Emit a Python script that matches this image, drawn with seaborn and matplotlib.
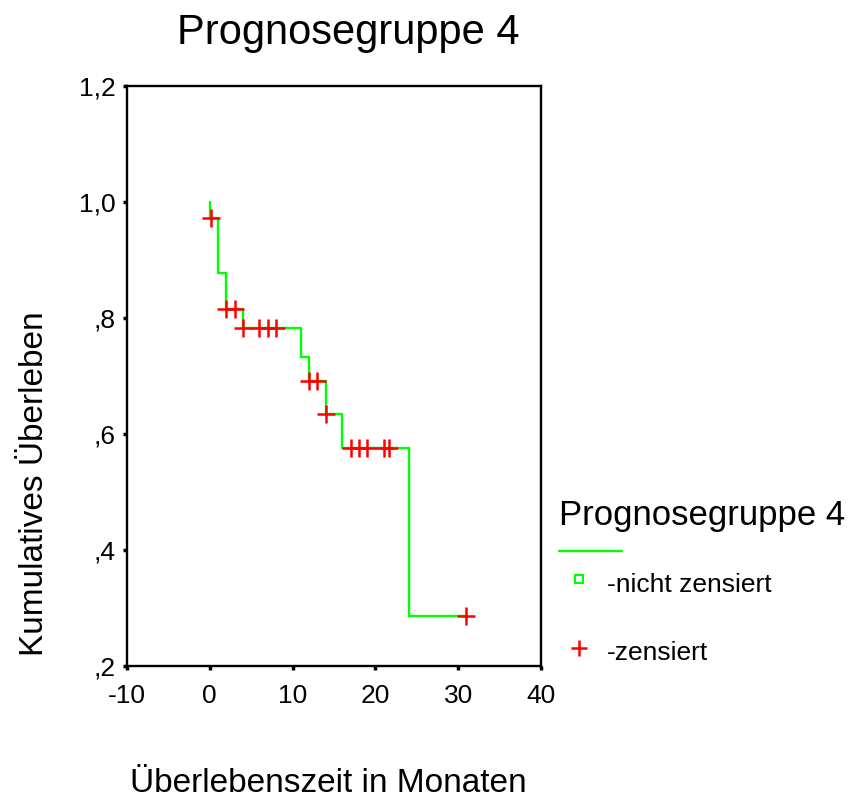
import matplotlib
matplotlib.use("Agg")
import matplotlib.pyplot as plt
from matplotlib.lines import Line2D
import pandas as pd
import seaborn as sns

# Kaplan-Meier step data
step_times = [0, 0, 1, 2, 4, 11, 12, 14, 16, 24, 31]
step_surv = [1.0, 0.972, 0.877, 0.815, 0.782, 0.733, 0.691, 0.634, 0.576, 0.287, 0.287]

# censored observations
cens_times = [0.2, 2, 3, 4, 6, 7, 8, 12, 13, 14, 17, 18, 19, 21, 21.7, 31]
cens_surv = [0.972, 0.815, 0.815, 0.782, 0.782, 0.782, 0.782, 0.691, 0.691,
             0.634, 0.576, 0.576, 0.576, 0.576, 0.576, 0.287]

x_ticks = [-10, 0, 10, 20, 30, 40]
x_tick_labels = ["-10", "0", "10", "20", "30", "40"]
y_ticks = [0.2, 0.4, 0.6, 0.8, 1.0, 1.2]
y_tick_labels = [",2", ",4", ",6", ",8", "1,0", "1,2"]

title = "Prognosegruppe 4"
xlabel = "Überlebenszeit in Monaten"
ylabel = "Kumulatives Überleben"
legend_title = "Prognosegruppe 4"
legend_labels = ["-nicht zensiert", "-zensiert"]

sns.set_style("white")
plt.rcParams["font.family"] = ["Liberation Sans", "DejaVu Sans"]
plt.rcParams["text.color"] = "black"

fig = plt.figure(figsize=(8.55, 8.0), dpi=100)
ax = fig.add_axes([127 / 855, 1 - 666 / 800, 414 / 855, 580 / 800])

steps = pd.DataFrame({"t": step_times, "s": step_surv})
cens = pd.DataFrame({"t": cens_times, "s": cens_surv})

sns.lineplot(data=steps, x="t", y="s", ax=ax, estimator=None, sort=False,
             drawstyle="steps-post", color="#00ff00", linewidth=1.7)
sns.scatterplot(data=cens, x="t", y="s", ax=ax, marker="+", color="#ff0000",
                s=150, linewidth=1.8, zorder=3)

ax.set_xlim(-10, 40)
ax.set_ylim(0.2, 1.2)
ax.set_xticks(x_ticks)
ax.set_xticklabels(x_tick_labels)
ax.set_yticks(y_ticks)
ax.set_yticklabels(y_tick_labels)
ax.set_xlabel("")
ax.set_ylabel("")
ax.tick_params(axis="both", direction="out", length=3, width=2.5, color="black",
               labelsize=19, labelcolor="black", bottom=True, left=True)
ax.tick_params(axis="x", pad=10)
ax.tick_params(axis="y", pad=5)
for sp in ax.spines.values():
    sp.set_visible(True)
    sp.set_color("black")
    sp.set_linewidth(1.7)

fig.text(348 / 855, 1 - 33 / 800, title, ha="center", va="center", fontsize=30,
         color="black")
fig.text(328 / 855, 1 - 783 / 800, xlabel, ha="center", va="center", fontsize=24,
         color="black")
fig.text(35 / 855, 1 - 484 / 800, ylabel, ha="center", va="center", fontsize=24,
         rotation=90, color="black")

# legend drawn manually
fig.text(559 / 855, 1 - 515 / 800, legend_title, ha="left", va="center", fontsize=25,
         color="black")
fig.add_artist(Line2D([559 / 855, 622 / 855], [1 - 551 / 800, 1 - 551 / 800],
                      color="#00ff00", linewidth=1.7, transform=fig.transFigure))
fig.add_artist(Line2D([579 / 855], [1 - 579 / 800], marker="s", markersize=6,
                      markerfacecolor="white", markeredgecolor="#00ff00",
                      markeredgewidth=1.5, linestyle="none",
                      transform=fig.transFigure))
fig.add_artist(Line2D([579 / 855], [1 - 648 / 800], marker="+", markersize=12,
                      color="#ff0000", markeredgewidth=1.8, linestyle="none",
                      transform=fig.transFigure))
fig.text(607 / 855, 1 - 585 / 800, legend_labels[0], ha="left", va="center", fontsize=19,
         color="black")
fig.text(607 / 855, 1 - 653 / 800, legend_labels[1], ha="left", va="center", fontsize=19,
         color="black")

fig.savefig("out.png", dpi=100)
